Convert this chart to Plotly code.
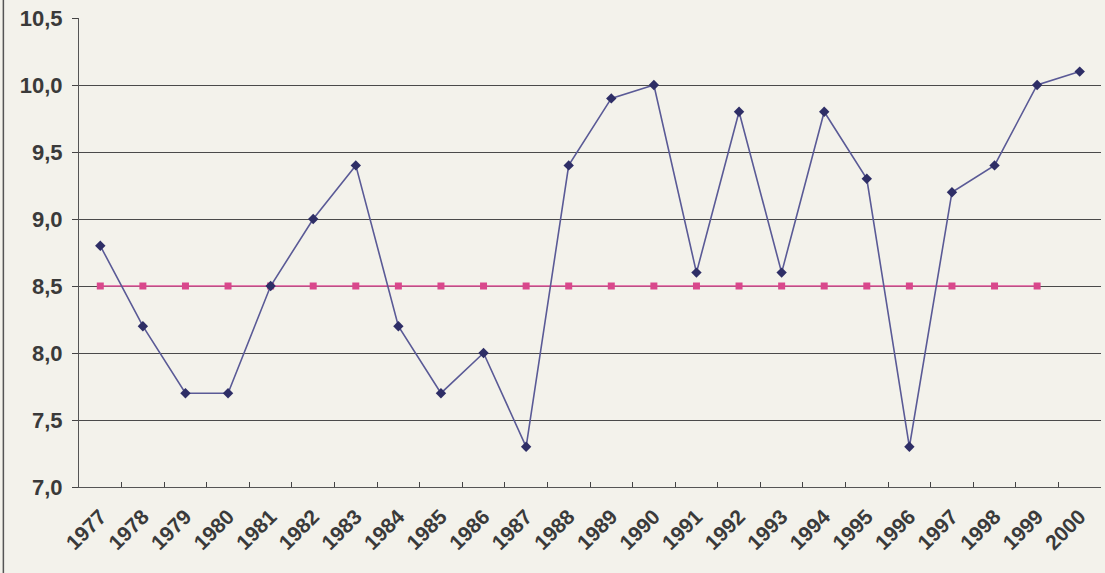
import plotly.graph_objects as go

years = [str(y) for y in range(1977, 2001)]
values = [8.8, 8.2, 7.7, 7.7, 8.5, 9.0, 9.4, 8.2, 7.7, 8.0, 7.3, 9.4,
          9.9, 10.0, 8.6, 9.8, 8.6, 9.8, 9.3, 7.3, 9.2, 9.4, 10.0, 10.1]
ref_years = years[:23]
ref_values = [8.5] * 23
y_ticks = [7.0, 7.5, 8.0, 8.5, 9.0, 9.5, 10.0, 10.5]
y_labels = ["7,0", "7,5", "8,0", "8,5", "9,0", "9,5", "10,0", "10,5"]

bg = "#f3f2eb"
fig = go.Figure()
fig.add_trace(go.Scatter(
    x=ref_years, y=ref_values, mode="lines+markers",
    line=dict(color="#e0559a", width=1.5),
    marker=dict(symbol="square", size=7, color="#d9488c"),
    showlegend=False, cliponaxis=False))
fig.add_trace(go.Scatter(
    x=years, y=values, mode="lines+markers",
    line=dict(color="#5a5a96", width=1.6),
    marker=dict(symbol="diamond", size=8, color="#2e2e66"),
    showlegend=False, cliponaxis=False))

fig.update_layout(
    width=1105, height=573,
    margin=dict(l=79, r=4, t=18, b=86),
    paper_bgcolor=bg, plot_bgcolor=bg,
    font=dict(family="Liberation Sans, Arial", color="#3a3a3a"),
    xaxis=dict(
        type="category", range=[-0.5, 23.5], automargin=False,
        tickangle=-45, tickson="boundaries", ticks="inside", ticklen=5,
        tickcolor="#444", showgrid=False, ticklabelstandoff=8,
        showline=True, linecolor="#555", linewidth=1.2,
        tickfont=dict(size=21, family="Liberation Sans, Arial", weight="bold", color="#3a3a3a"),
    ),
    yaxis=dict(
        range=[7.0, 10.5], tickvals=y_ticks, ticktext=y_labels, automargin=False,
        ticks="outside", ticklen=6, tickcolor="#444", ticklabelstandoff=5,
        showgrid=True, gridcolor="#4a4a4a", gridwidth=1.3,
        showline=True, linecolor="#555", linewidth=1.2,
        zeroline=False,
        tickfont=dict(size=22, family="Liberation Sans, Arial", weight="bold", color="#3a3a3a"),
    ),
    shapes=[dict(type="line", xref="paper", yref="paper",
                 x0=-0.074, x1=-0.074, y0=-0.2, y1=1.05,
                 line=dict(color="#555", width=1.5))],
)
fig.write_html("out.html", config={"displayModeBar": False},
               post_script="document.body.style.margin='0';document.body.style.background='#f3f2eb';")
